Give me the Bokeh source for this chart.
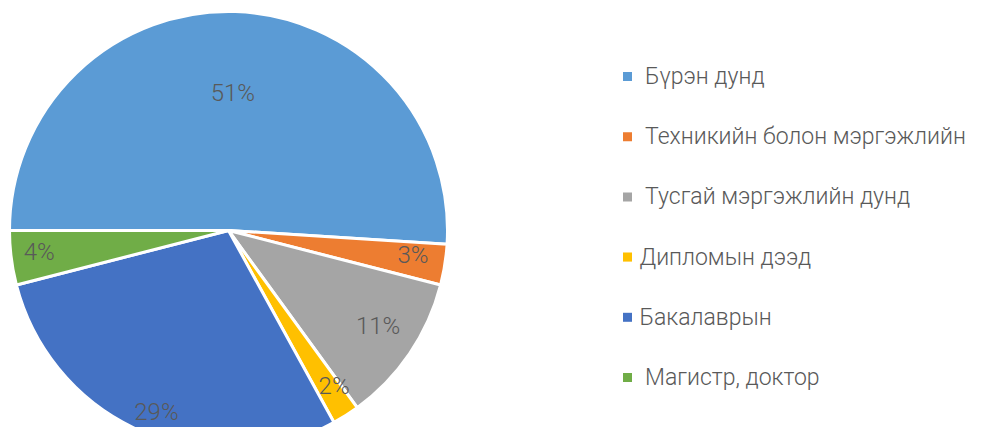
import math
from bokeh.plotting import figure
from bokeh.models import Range1d, ColumnDataSource
from bokeh.core.properties import value
from bokeh.embed import file_html
from bokeh.resources import INLINE

NB = "\u00a0"
categories = [NB + "Бүрэн дунд", NB + "Техникийн болон мэргэжлийн", NB + "Тусгай мэргэжлийн дунд",
              "Дипломын дээд", "Бакалаврын", NB + "Магистр, доктор"]
shares = [51, 3, 11, 2, 29, 4]
labels = ["51%", "3%", "11%", "2%", "29%", "4%"]
colors = ["#5B9BD5", "#ED7D31", "#A5A5A5", "#FFC000", "#4472C4", "#70AD47"]
label_radius = [0.63, 0.85, 0.81, 0.86, 0.89, 0.87]
label_dangle = [0.0, 0.025, 0.03, 0.03, 0.03, -0.01]

W, H = 970, 427
cx, cy, R = 228, 197, 219

total = sum(shares)
starts, ends, lx, ly = [], [], [], []
acc = 0.0
for s, lr, da in zip(shares, label_radius, label_dangle):
    a0 = math.pi - acc / total * 2 * math.pi
    acc += s
    a1 = math.pi - acc / total * 2 * math.pi
    starts.append(a0)
    ends.append(a1)
    mid = (a0 + a1) / 2 + da
    lx.append(cx + lr * R * math.cos(mid))
    ly.append(cy + lr * R * math.sin(mid))

src = ColumnDataSource(dict(start=starts, end=ends, color=colors, lx=lx, ly=ly, lab=labels,
                            cat=categories,
                            legx=[627] * 6, legy=[351 - 60.2 * i for i in range(6)],
                            tx=[639] * 6))

p = figure(width=W, height=H, x_range=Range1d(0, W), y_range=Range1d(0, H),
           output_backend="svg", toolbar_location=None, min_border=0)
p.axis.visible = False
p.grid.visible = False
p.outline_line_color = None

p.wedge(x=cx, y=cy, radius=R, start_angle="start", end_angle="end", direction="clock",
        fill_color="color", line_color="white", line_width=3, source=src)
p.text(x="lx", y="ly", text="lab", text_align="center", text_baseline="middle",
       text_font=value("Roboto Light"), text_font_size="24px",
       text_color="#595959", source=src)
p.scatter(x="legx", y="legy", marker="square", size=9, fill_color="color", line_color=None, source=src)
p.text(x="tx", y="legy", text="cat", text_align="left", text_baseline="middle",
       text_font=value("Roboto Light"), text_font_size="23px", text_color="#595959", source=src)

open("out.html", "w").write(file_html(p, INLINE))
